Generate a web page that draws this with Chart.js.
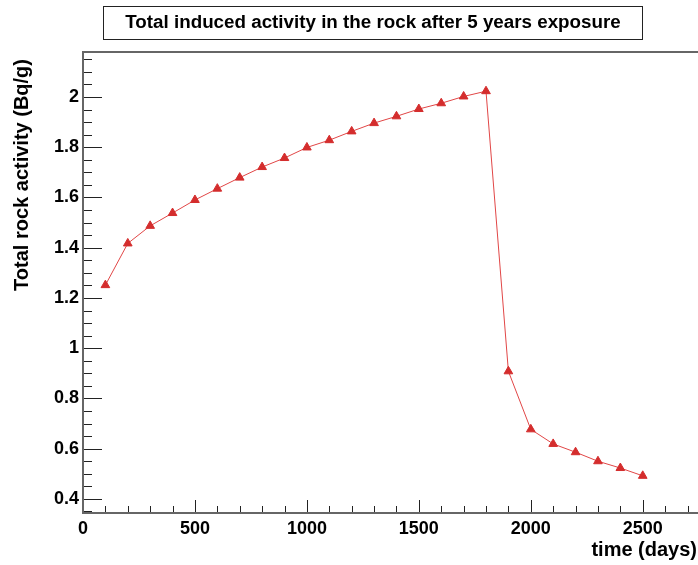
<!DOCTYPE html>
<html>
<head>
<meta charset="utf-8">
<script src="https://cdn.jsdelivr.net/npm/chart.js@4/dist/chart.umd.min.js"></script>
<style>
  body { margin: 0; background: #fff; }
  #wrap { width: 698px; height: 565px; }
</style>
</head>
<body>
<div id="wrap"><canvas id="rockChart" width="698" height="565"></canvas></div>
<script>
// Data
const days = [100, 200, 300, 400, 500, 600, 700, 800, 900, 1000, 1100, 1200, 1300,
              1400, 1500, 1600, 1700, 1800, 1900, 2000, 2100, 2200, 2300, 2400, 2500];
const activity = [1.251, 1.417, 1.487, 1.538, 1.590, 1.635, 1.679, 1.721, 1.757, 1.799, 1.828, 1.863, 1.896,
                  1.923, 1.952, 1.975, 2.002, 2.023, 0.908, 0.677, 0.619, 0.586, 0.550, 0.523, 0.492];

const xTickValues = [0, 500, 1000, 1500, 2000, 2500];
const yTickValues = [0.4, 0.6, 0.8, 1, 1.2, 1.4, 1.6, 1.8, 2];

const chartTitle = 'Total induced activity in the rock after 5 years exposure';
const xTitle = 'time (days)';
const yTitle = 'Total rock activity (Bq/g)';

const FONT = '"Liberation Sans", Arial, sans-serif';
const markerRed = 'rgb(212, 45, 45)';

// ROOT-like frame, inward ticks, title box and axis titles
const rootStyle = {
    id: 'rootStyle',
    afterDraw(chart) {
        const { ctx, chartArea: a, scales: { x, y } } = chart;
        ctx.save();

        // minor + major ticks, pointing into the frame
        ctx.strokeStyle = '#222';
        ctx.lineWidth = 1;
        ctx.beginPath();
        for (let v = 100; v <= x.max; v += 100) {
            const px = Math.round(x.getPixelForValue(v)) + 0.5;
            const len = v % 500 === 0 ? 13 : 7;
            ctx.moveTo(px, a.bottom);
            ctx.lineTo(px, a.bottom - len);
        }
        for (let i = 7; i * 0.05 <= y.max + 1e-9; i++) {
            const v = i * 0.05;
            if (v < y.min) continue;
            const py = Math.round(y.getPixelForValue(v)) + 0.5;
            const len = i % 4 === 0 ? 19 : 9;
            ctx.moveTo(a.left, py);
            ctx.lineTo(a.left + len, py);
        }
        ctx.stroke();

        // frame (right side falls off the canvas)
        ctx.strokeStyle = '#666';
        ctx.lineWidth = 2;
        ctx.beginPath();
        ctx.moveTo(chart.width, a.top);
        ctx.lineTo(a.left, a.top);
        ctx.lineTo(a.left, a.bottom);
        ctx.lineTo(chart.width, a.bottom);
        ctx.stroke();

        // title box
        ctx.strokeStyle = '#222';
        ctx.lineWidth = 1;
        ctx.strokeRect(103.5, 6.5, 539, 33);
        ctx.fillStyle = '#000';
        ctx.font = 'bold 18.8px ' + FONT;
        ctx.textAlign = 'center';
        ctx.textBaseline = 'middle';
        ctx.fillText(chartTitle, 373, 23);

        // x title, right aligned at the end of the axis
        ctx.font = 'bold 20px ' + FONT;
        ctx.textAlign = 'right';
        ctx.fillText(xTitle, 697, 550);

        // y title, right aligned at the top of the axis
        ctx.translate(22, 59);
        ctx.rotate(-Math.PI / 2);
        ctx.textAlign = 'right';
        ctx.fillText(yTitle, 0, 0);
        ctx.restore();
    }
};

new Chart(document.getElementById('rockChart'), {
    type: 'line',
    data: {
        datasets: [{
            data: days.map((d, i) => ({ x: d, y: activity[i] })),
            borderColor: 'rgb(225, 70, 70)',
            borderWidth: 1,
            pointStyle: 'triangle',
            pointRadius: 5,
            pointBackgroundColor: markerRed,
            pointBorderColor: markerRed,
            pointBorderWidth: 1,
            tension: 0,
            fill: false
        }]
    },
    options: {
        responsive: false,
        animation: false,
        layout: { padding: { top: 52, right: 0, left: 0, bottom: 0 } },
        plugins: { legend: { display: false }, tooltip: { enabled: false }, title: { display: false } },
        scales: {
            x: {
                type: 'linear',
                min: 0,
                max: 2720,
                afterBuildTicks: s => { s.ticks = xTickValues.map(v => ({ value: v })); },
                afterFit: s => { s.height = 52; },
                grid: { display: false, drawTicks: false },
                border: { display: false },
                ticks: {
                    color: '#000',
                    padding: 5,
                    maxRotation: 0,
                    autoSkip: false,
                    font: { family: FONT, size: 18, weight: 'bold' },
                    callback: v => String(v)
                }
            },
            y: {
                type: 'linear',
                min: 0.344,
                max: 2.179,
                afterBuildTicks: s => { s.ticks = yTickValues.map(v => ({ value: v })); },
                afterFit: s => { s.width = 83; },
                grid: { display: false, drawTicks: false },
                border: { display: false },
                ticks: {
                    color: '#000',
                    padding: 4,
                    autoSkip: false,
                    font: { family: FONT, size: 18, weight: 'bold' },
                    callback: v => String(parseFloat(v.toFixed(2)))
                }
            }
        }
    },
    plugins: [rootStyle]
});
</script>
</body>
</html>
